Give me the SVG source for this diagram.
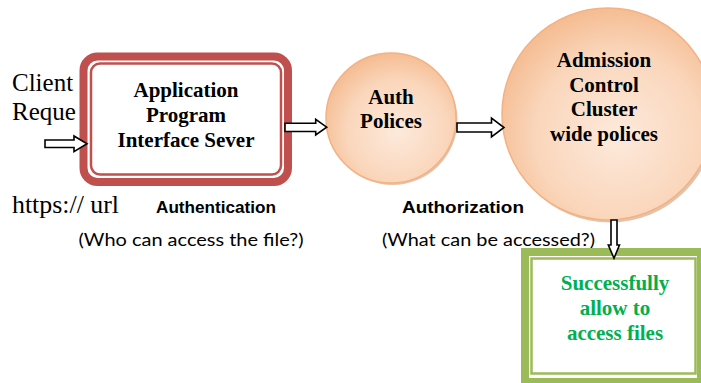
<svg xmlns="http://www.w3.org/2000/svg" width="701" height="383" viewBox="0 0 701 383">
<defs>
<radialGradient id="peach" cx="0.55" cy="0.6" r="0.6">
<stop offset="0" stop-color="#FDEADC"/>
<stop offset="0.65" stop-color="#FAD6BB"/>
<stop offset="1" stop-color="#F5BD93"/>
</radialGradient>
</defs>
<style>
.tb{font-family:"Liberation Serif","Times New Roman",serif;font-weight:bold;font-size:21px;fill:#000;text-anchor:middle}
.tr{font-family:"Liberation Serif","Times New Roman",serif;font-size:25px;fill:#000}
.lb{font-family:"Liberation Sans",Arial,sans-serif;font-weight:bold;font-size:17px;fill:#000}
.ls{font-family:Lato,"Liberation Sans",sans-serif;font-size:18px;fill:#000}
.arr{fill:#fff;stroke:#000;stroke-width:1.6;stroke-linejoin:miter}
.shadow{fill:#C9946C;opacity:0.55}
.circ{fill:url(#peach);stroke:#F4B183;stroke-width:1.5}
.green{fill:#00B050}
</style>
<rect width="701" height="383" fill="#fff"/>

<text class="tr" x="12" y="90.5">Client</text>
<text class="tr" x="12" y="119.5">Reque</text>
<text class="tr" x="12" y="213" font-size="24" textLength="107" lengthAdjust="spacingAndGlyphs">https:// url</text>
<text class="lb" x="156" y="213" textLength="120" lengthAdjust="spacingAndGlyphs">Authentication</text>
<text class="ls" x="78.5" y="246" textLength="225" lengthAdjust="spacingAndGlyphs">(Who can access the file?)</text>
<text class="lb" x="402" y="213" textLength="122" lengthAdjust="spacingAndGlyphs">Authorization</text>
<text class="ls" x="382" y="246" textLength="213" lengthAdjust="spacingAndGlyphs">(What can be accessed?)</text>

<g id="api">
<rect x="83.5" y="56.5" width="204.5" height="125.5" rx="14" fill="#fff" stroke="#C0504D" stroke-width="8"/>
<rect x="91" y="63.5" width="190" height="111" rx="9" fill="#fff" stroke="#C0504D" stroke-width="2.5"/>
<text class="tb" x="186" y="97">Application</text>
<text class="tb" x="186" y="122">Program</text>
<text class="tb" x="186" y="147">Interface Sever</text>
</g>

<g id="auth">
<circle class="shadow" cx="392.5" cy="120" r="65"/>
<circle class="circ" cx="391" cy="118" r="65"/>
<text class="tb" x="391" y="103.5">Auth</text>
<text class="tb" x="391" y="127.5">Polices</text>
</g>

<g id="admission">
<circle class="shadow" cx="610" cy="116.5" r="106"/>
<circle class="circ" cx="608" cy="114" r="106"/>
<text class="tb" x="604" y="67">Admission</text>
<text class="tb" x="604" y="92">Control</text>
<text class="tb" x="604" y="116">Cluster</text>
<text class="tb" x="604" y="140.5">wide polices</text>
</g>

<g id="success">
<rect x="525" y="252" width="176" height="130" fill="#fff" stroke="#9BBB59" stroke-width="8"/>
<rect x="531.5" y="258.5" width="164" height="115" fill="#fff" stroke="#9BBB59" stroke-width="2.5"/>
<text class="tb green" x="615" y="289.5">Successfully</text>
<text class="tb green" x="615" y="314.5">allow to</text>
<text class="tb green" x="615" y="339.5">access files</text>
</g>

<g id="connectors">
<path class="arr" d="M45,140 H74 V136 L87,143.8 L74,151.6 V147.5 H45 Z"/>
<path class="arr" d="M285,123.3 H315.7 V119.3 L326.7,127.2 L315.7,135 V131.5 H285 Z"/>
<path class="arr" d="M457,123 H491.5 V118 L504,127.5 L491.5,137 V132 H457 Z"/>
<path class="arr" d="M611,220 V245 H608.3 L614,258.3 L619.5,245 H617 V220 Z"/>
</g>
</svg>
